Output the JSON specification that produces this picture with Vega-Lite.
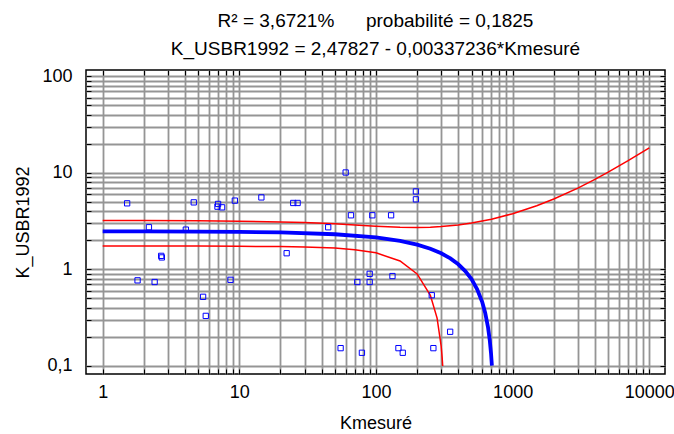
{
  "$schema": "https://vega.github.io/schema/vega-lite/v6.json",
  "width": 579,
  "height": 304,
  "autosize": {"type": "none"},
  "padding": {"left": 86, "top": 70, "right": 9, "bottom": 60},
  "background": "white",
  "config": {
    "font": "Liberation Sans",
    "view": {"stroke": "black", "strokeWidth": 1.5},
    "axis": {
      "grid": true,
      "gridColor": "#959595",
      "gridWidth": 1.8,
      "domain": false,
      "tickSize": -5,
      "tickColor": "black",
      "tickWidth": 1,
      "labelFontSize": 18,
      "labelColor": "black",
      "labelOverlap": false,
      "labelFlush": false,
      "titleFontSize": 18,
      "titleFontWeight": "normal",
      "titleColor": "black"
    }
  },
  "title": {
    "text": ["R² = 3,6721%\u00a0\u00a0\u00a0\u00a0\u00a0\u00a0probabilité = 0,1825", "K_USBR1992 = 2,47827 - 0,00337236*Kmesuré"],
    "fontSize": 19,
    "fontWeight": "normal",
    "color": "black",
    "lineHeight": 28,
    "offset": 8,
    "anchor": "middle"
  },
  "resolve": {"axis": {"x": "independent", "y": "independent"}},
  "datasets": {
    "points": [
      {"x": 1.51, "y": 4.83}, {"x": 1.80, "y": 0.77}, {"x": 2.18, "y": 2.73}, {"x": 2.40, "y": 0.74},
      {"x": 2.68, "y": 1.38}, {"x": 2.71, "y": 1.33}, {"x": 4.06, "y": 2.58}, {"x": 4.64, "y": 4.94},
      {"x": 5.43, "y": 0.52}, {"x": 5.68, "y": 0.33}, {"x": 6.99, "y": 4.76}, {"x": 6.92, "y": 4.46},
      {"x": 7.48, "y": 4.39}, {"x": 8.62, "y": 0.78}, {"x": 9.27, "y": 5.15}, {"x": 14.5, "y": 5.56},
      {"x": 22.2, "y": 1.47}, {"x": 24.8, "y": 4.87}, {"x": 26.7, "y": 4.87}, {"x": 44.7, "y": 2.73},
      {"x": 55.1, "y": 0.153}, {"x": 60.0, "y": 10.07}, {"x": 65.6, "y": 3.63}, {"x": 73.0, "y": 0.74},
      {"x": 78.9, "y": 0.137}, {"x": 89.9, "y": 0.90}, {"x": 89.9, "y": 0.74}, {"x": 94.0, "y": 3.63},
      {"x": 129, "y": 3.63}, {"x": 132, "y": 0.853}, {"x": 146, "y": 0.153}, {"x": 157, "y": 0.137},
      {"x": 196, "y": 6.41}, {"x": 196, "y": 5.31}, {"x": 256, "y": 0.54}, {"x": 263, "y": 0.153},
      {"x": 349, "y": 0.226}
    ],
    "fit": [
      {"x": 1, "y": 2.4749}, {"x": 2, "y": 2.4715}, {"x": 5, "y": 2.4614}, {"x": 10, "y": 2.4446},
      {"x": 20, "y": 2.4108}, {"x": 50, "y": 2.3097}, {"x": 100, "y": 2.1410}, {"x": 150, "y": 1.9724},
      {"x": 200, "y": 1.8038}, {"x": 250, "y": 1.6352}, {"x": 300, "y": 1.4666}, {"x": 350, "y": 1.2980},
      {"x": 400, "y": 1.1293}, {"x": 450, "y": 0.9607}, {"x": 500, "y": 0.7921}, {"x": 550, "y": 0.6235},
      {"x": 600, "y": 0.4549}, {"x": 630, "y": 0.3537}, {"x": 660, "y": 0.2526}, {"x": 680, "y": 0.1851},
      {"x": 695, "y": 0.1345}, {"x": 705, "y": 0.1008}
    ],
    "band": [
      {"x": 1, "y": 3.205, "side": "upper"}, {"x": 2, "y": 3.199, "side": "upper"}, {"x": 5, "y": 3.182, "side": "upper"},
      {"x": 10, "y": 3.154, "side": "upper"}, {"x": 20, "y": 3.101, "side": "upper"}, {"x": 30, "y": 3.050, "side": "upper"},
      {"x": 50, "y": 2.959, "side": "upper"}, {"x": 70, "y": 2.883, "side": "upper"}, {"x": 100, "y": 2.798, "side": "upper"},
      {"x": 150, "y": 2.724, "side": "upper"}, {"x": 200, "y": 2.710, "side": "upper"}, {"x": 250, "y": 2.732, "side": "upper"},
      {"x": 300, "y": 2.773, "side": "upper"}, {"x": 400, "y": 2.886, "side": "upper"}, {"x": 500, "y": 3.020, "side": "upper"},
      {"x": 700, "y": 3.311, "side": "upper"}, {"x": 1000, "y": 3.771, "side": "upper"}, {"x": 1500, "y": 4.557, "side": "upper"},
      {"x": 2000, "y": 5.351, "side": "upper"}, {"x": 3000, "y": 6.946, "side": "upper"}, {"x": 4000, "y": 8.545, "side": "upper"},
      {"x": 5000, "y": 10.145, "side": "upper"}, {"x": 7000, "y": 13.348, "side": "upper"}, {"x": 10000, "y": 18.154, "side": "upper"},
      {"x": 1, "y": 1.745, "side": "lower"}, {"x": 2, "y": 1.744, "side": "lower"}, {"x": 5, "y": 1.741, "side": "lower"},
      {"x": 10, "y": 1.735, "side": "lower"}, {"x": 20, "y": 1.721, "side": "lower"}, {"x": 30, "y": 1.704, "side": "lower"},
      {"x": 50, "y": 1.660, "side": "lower"}, {"x": 70, "y": 1.601, "side": "lower"}, {"x": 100, "y": 1.484, "side": "lower"},
      {"x": 150, "y": 1.221, "side": "lower"}, {"x": 200, "y": 0.897, "side": "lower"}, {"x": 250, "y": 0.539, "side": "lower"},
      {"x": 280, "y": 0.313, "side": "lower"}, {"x": 300, "y": 0.160, "side": "lower"}, {"x": 305, "y": 0.1216, "side": "lower"},
      {"x": 307.8, "y": 0.1, "side": "lower"}
    ]
  },
  "layer": [
    {
      "data": {"name": "band"},
      "mark": {"type": "line", "color": "#ff0000", "strokeWidth": 1.5, "clip": true},
      "encoding": {
        "x": {
          "field": "x", "type": "quantitative",
          "scale": {"type": "log", "domain": [0.755, 13030], "nice": false},
          "axis": {
            "title": "Kmesuré",
            "values": [1,2,3,4,5,6,7,8,9,10,20,30,40,50,60,70,80,90,100,200,300,400,500,600,700,800,900,1000,2000,3000,4000,5000,6000,7000,8000,9000,10000],
            "labelExpr": "datum.value == 1 ? '1' : datum.value == 10 ? '10' : datum.value == 100 ? '100' : datum.value == 1000 ? '1000' : datum.value == 10000 ? '10000' : ''",
            "labelPadding": 14,
            "titlePadding": 13
          }
        },
        "y": {
          "field": "y", "type": "quantitative",
          "scale": {"type": "log", "domain": [0.0826, 115.9], "nice": false},
          "axis": {
            "title": "K_USBR1992",
            "values": [0.1,0.2,0.3,0.4,0.5,0.6,0.7,0.8,0.9,1,2,3,4,5,6,7,8,9,10,20,30,40,50,60,70,80,90,100],
            "labelExpr": "datum.value == 0.1 ? '0,1' : datum.value == 1 ? '1' : datum.value == 10 ? '10' : datum.value == 100 ? '100' : ''",
            "labelPadding": 19,
            "titlePadding": 9
          }
        },
        "detail": {"field": "side"},
        "order": {"field": "x", "type": "quantitative"}
      }
    },
    {
      "data": {"name": "fit"},
      "mark": {"type": "line", "color": "#0000ff", "strokeWidth": 3.8, "clip": true},
      "encoding": {
        "x": {
          "field": "x", "type": "quantitative",
          "axis": {
            "orient": "top", "title": null, "labels": false, "grid": false,
            "values": [1,2,3,4,5,6,7,8,9,10,20,30,40,50,60,70,80,90,100,200,300,400,500,600,700,800,900,1000,2000,3000,4000,5000,6000,7000,8000,9000,10000]
          }
        },
        "y": {
          "field": "y", "type": "quantitative",
          "axis": {
            "orient": "right", "title": null, "labels": false, "grid": false,
            "values": [0.1,0.2,0.3,0.4,0.5,0.6,0.7,0.8,0.9,1,2,3,4,5,6,7,8,9,10,20,30,40,50,60,70,80,90,100]
          }
        },
        "order": {"field": "x", "type": "quantitative"}
      }
    },
    {
      "data": {"name": "points"},
      "mark": {"type": "point", "shape": "square", "filled": false, "color": "#0000ff", "size": 28, "strokeWidth": 1, "opacity": 1},
      "encoding": {
        "x": {"field": "x", "type": "quantitative", "axis": null},
        "y": {"field": "y", "type": "quantitative", "axis": null}
      }
    }
  ]
}
